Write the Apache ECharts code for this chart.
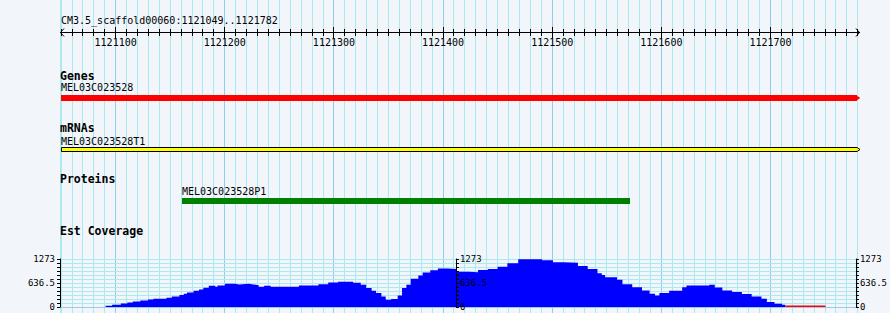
<!DOCTYPE html>
<html><head><meta charset="utf-8">
<script src="https://cdn.jsdelivr.net/npm/echarts@6/dist/echarts.min.js"></script>
<style>html,body{margin:0;padding:0;background:#F2F5FA}#c{width:890px;height:313px}</style>
</head><body><div id="c"></div>
<script>
// ---------- data ----------
const regionName = 'CM3.5_scaffold00060';
const regionStart = 1121049;
const regionEnd = 1121782;
const rulerLabels = [1121100, 1121200, 1121300, 1121400, 1121500, 1121600, 1121700];
const trackTitles = ['Genes', 'mRNAs', 'Proteins', 'Est Coverage'];
const featureNames = ['MEL03C023528', 'MEL03C023528T1', 'MEL03C023528P1'];
const featureStarts = [1121049, 1121049, 1121160];
const featureEnds = [1121782, 1121782, 1121571];
const coveragePos = [1121091,1121097,1121105,1121111,1121116,1121123,1121130,1121135,1121147,1121152,
  1121159,1121163,1121166,1121172,1121177,1121181,1121186,1121192,1121194,1121201,
  1121210,1121214,1121223,1121227,1121232,1121237,1121243,1121269,1121287,1121296,
  1121305,1121319,1121326,1121331,1121336,1121340,1121345,1121349,1121354,1121360,
  1121364,1121368,1121372,1121379,1121383,1121390,1121397,1121406,1121414,1121425,
  1121434,1121443,1121452,1121461,1121471,1121493,1121503,1121512,1121526,1121535,
  1121544,1121548,1121551,1121562,1121567,1121576,1121585,1121592,1121597,1121601,
  1121610,1121622,1121626,1121647,1121652,1121659,1121668,1121677,1121686,1121695,
  1121700,1121707,1121714,1121717];
const coverageVal = [34,61,95,121,148,174,200,219,245,279,
  316,351,385,432,464,509,561,535,569,614,
  596,614,596,580,535,561,535,569,606,648,
  667,641,588,501,430,369,279,192,211,306,
  501,588,746,833,912,975,1018,1010,938,923,
  983,1010,1070,1160,1265,1239,1186,1176,1089,1010,
  896,851,791,720,606,527,438,351,306,369,
  430,527,569,588,517,438,395,343,279,219,
  132,87,61,61];
const lowCoveragePos = [1121717, 1121754];
const lowCoverageVal = [22, 22];
const coverageMax = 1273;
const coverageTickLabels = ['0', '636.5', '1273'];

// ---------- styles / layout ----------
const MONO = '"DejaVu Sans Mono", "Liberation Mono", monospace';
const GRID_MINOR = '#A9E9EF';
const GRID_MAJOR = '#8ECDEB';
const trackTitleY = [76, 128, 179, 231];
const featureNameY = [87, 141, 191];
const featureBarTop = [95, 147.5, 198];
const featureBarH = [6, 4, 6];

const tickValues = [];
for (let v = Math.ceil(regionStart / 10) * 10; v <= regionEnd; v += 10) tickValues.push(v);

const chart = echarts.init(document.getElementById('c'), null, {renderer: 'svg'});

const graphics = [{
  type: 'text', x: 61, y: 20, z: 100,
  style: {text: regionName + ':' + regionStart + '..' + regionEnd, font: '10px ' + MONO, fill: '#000', align: 'left', verticalAlign: 'middle'}
}];
trackTitles.forEach((t, i) => graphics.push({
  type: 'text', x: 60, y: trackTitleY[i], z: 100,
  style: {text: t, font: 'bold 11.5px ' + MONO, fill: '#000', align: 'left', verticalAlign: 'middle'}
}));

function px(x) { return Math.round(x) + 0.5; }
function covLabel(v) {
  if (Math.abs(v) < 0.01) return coverageTickLabels[0];
  if (Math.abs(v - coverageMax / 2) < 0.01) return coverageTickLabels[1];
  if (Math.abs(v - coverageMax) < 0.01) return coverageTickLabels[2];
  return '';
}
function covAxis(pos, offset, margin) {
  return {gridIndex: 1, type: 'value', position: pos, offset: offset, z: 20,
    min: 0, max: coverageMax, interval: coverageMax / 12,
    axisLine: {show: true, lineStyle: {color: '#000', width: 1}},
    axisTick: {show: true, length: 3, lineStyle: {color: '#000'}},
    axisLabel: {margin: margin, fontFamily: MONO, fontSize: 9, color: '#000',
      showMinLabel: true, showMaxLabel: true, formatter: covLabel},
    splitLine: {show: false}};
}

const option = {
  backgroundColor: '#F2F5FA',
  animation: false,
  graphic: graphics,
  grid: [
    {left: 60, width: 800, top: 0, height: 313},
    {left: 60, width: 800, top: 259, height: 48}
  ],
  xAxis: [
    {gridIndex: 0, type: 'value', min: regionStart, max: regionEnd, show: false},
    {gridIndex: 1, type: 'value', min: regionStart, max: regionEnd, z: 1,
      axisLine: {show: true, lineStyle: {color: '#96CCEA', width: 1}},
      axisTick: {show: false}, axisLabel: {show: false}, splitLine: {show: false}}
  ],
  yAxis: [
    {gridIndex: 0, type: 'value', min: 0, max: 1, show: false},
    covAxis('left', 0, 5),
    covAxis('right', -400, 4),
    covAxis('right', 0, 4),
    {gridIndex: 1, type: 'value', position: 'left', z: 1, min: 0, max: coverageMax, interval: coverageMax / 12,
      axisLine: {show: false}, axisTick: {show: false}, axisLabel: {show: false},
      splitLine: {show: true, lineStyle: {color: GRID_MINOR, width: 1}}}
  ],
  series: [
    { // vertical grid lines
      type: 'custom', xAxisIndex: 0, yAxisIndex: 0, z: 0, silent: true, clip: false,
      data: [regionStart].concat(tickValues).map(v => [v]),
      renderItem(params, api) {
        const v = api.value(0);
        const x = px(api.coord([v, 0])[0] - 0.5);
        return {type: 'line', shape: {x1: x, y1: 0, x2: x, y2: 313},
          style: {stroke: v % 100 === 0 ? GRID_MAJOR : GRID_MINOR, lineWidth: 1}};
      }
    },
    { // ruler
      type: 'custom', xAxisIndex: 0, yAxisIndex: 0, z: 30, silent: true, clip: false,
      data: [[regionStart, regionEnd]],
      renderItem(params, api) {
        const x0 = api.coord([api.value(0), 0])[0];
        const x1 = api.coord([api.value(1), 0])[0];
        const y = 32.5;
        const ch = [
          {type: 'line', shape: {x1: x0, y1: y, x2: x1, y2: y}, style: {stroke: '#000', lineWidth: 1}},
          {type: 'polyline', shape: {points: [[x0 + 4, y - 4], [x0 + 0.5, y], [x0 + 4, y + 4]]}, style: {stroke: '#000', fill: null, lineWidth: 1}},
          {type: 'polyline', shape: {points: [[x1 - 4, y - 4], [x1 - 0.5, y], [x1 - 4, y + 4]]}, style: {stroke: '#000', fill: null, lineWidth: 1}}
        ];
        tickValues.forEach(v => {
          const x = px(api.coord([v, 0])[0] - 0.5);
          const major = rulerLabels.indexOf(v) >= 0;
          const h = major ? 5 : 3;
          ch.push({type: 'line', shape: {x1: x, y1: y - h - 0.5, x2: x, y2: y + h + 0.5}, style: {stroke: '#000', lineWidth: 1}});
        });
        rulerLabels.forEach(v => {
          const x = api.coord([v, 0])[0];
          ch.push({type: 'text', style: {text: String(v), x: x, y: 42, font: '10px ' + MONO, fill: '#000', align: 'center', verticalAlign: 'middle'}});
        });
        return {type: 'group', children: ch};
      }
    },
    { // features
      type: 'custom', xAxisIndex: 0, yAxisIndex: 0, z: 30, silent: true, clip: false,
      data: featureNames.map((n, i) => [featureStarts[i], featureEnds[i], i]),
      renderItem(params, api) {
        const i = api.value(2);
        const xs = Math.round(api.coord([api.value(0), 0])[0]) + 1;
        const xe = Math.round(api.coord([api.value(1), 0])[0]);
        const t = featureBarTop[i], h = featureBarH[i];
        const ch = [];
        if (i === 0) {
          ch.push({type: 'polygon', shape: {points: [[xs, t], [xe - 3, t], [xe - 3, t + 1], [xe - 1, t + 2], [xe, t + 3], [xe - 1, t + 4], [xe - 3, t + 5], [xe - 3, t + h], [xs, t + h]]},
            style: {fill: '#FF0000'}});
        } else if (i === 1) {
          ch.push({type: 'polygon', shape: {points: [[xs + 0.5, t], [xe - 3, t], [xe, t + h / 2], [xe - 3, t + h], [xs + 0.5, t + h]]},
            style: {fill: '#FFFF00', stroke: '#000', lineWidth: 1}});
        } else {
          ch.push({type: 'rect', shape: {x: xs, y: t, width: xe - xs, height: h}, style: {fill: '#008000'}});
        }
        ch.push({type: 'text', style: {text: featureNames[i], x: xs, y: featureNameY[i], font: '10px ' + MONO, fill: '#000', align: 'left', verticalAlign: 'middle'}});
        return {type: 'group', children: ch};
      }
    },
    { // EST coverage
      type: 'line', xAxisIndex: 1, yAxisIndex: 1, z: 10, step: 'end', symbol: 'none', silent: true,
      data: coveragePos.map((p, i) => [p, coverageVal[i]]),
      lineStyle: {width: 0, opacity: 0},
      areaStyle: {color: '#0000FF', opacity: 1}
    },
    { // low coverage tail
      type: 'line', xAxisIndex: 1, yAxisIndex: 1, z: 10, symbol: 'none', silent: true,
      data: lowCoveragePos.map((p, i) => [p, lowCoverageVal[i]]),
      lineStyle: {width: 1.5, color: '#FF0000'}
    }
  ]
};
chart.setOption(option);
</script></body></html>
